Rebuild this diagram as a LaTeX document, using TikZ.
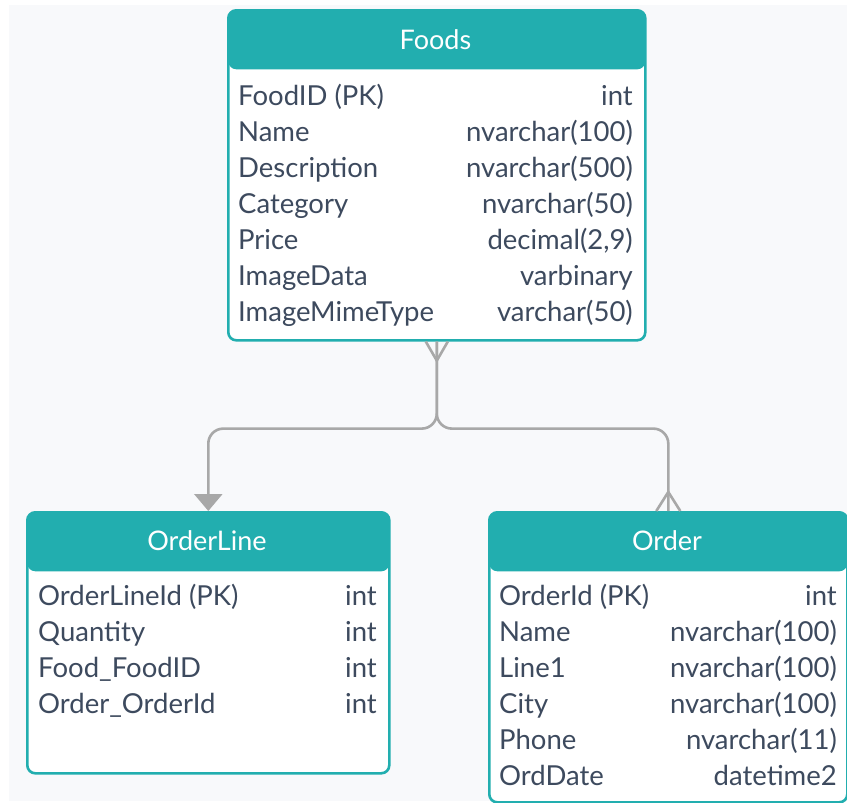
\documentclass[tikz,border=0pt]{standalone}
\usepackage{fontspec}
\setmainfont{Lato}
\usetikzlibrary{arrows.meta,calc}
\definecolor{tealc}{HTML}{22AEAF}
\definecolor{bgc}{HTML}{F8F9FB}
\definecolor{txt}{HTML}{3D4A5E}
\definecolor{conc}{HTML}{A8A8A8}
\tikzset{
  tbl/.style={draw=tealc, line width=2.6pt, fill=white, rounded corners=8pt, rectangle, anchor=north west, inner sep=0pt,
    path picture={\fill[tealc] (path picture bounding box.north west) rectangle ([yshift=-59pt]path picture bounding box.north east);}},
  ttl/.style={text=white, font=\fontsize{27}{30}\selectfont, anchor=base, inner sep=0pt},
  fld/.style={text=txt, font=\fontsize{27.5}{30}\selectfont, anchor=base west, inner sep=0pt},
  typ/.style={text=txt, font=\fontsize{27.5}{30}\selectfont, anchor=base east, inner sep=0pt},
  conn/.style={draw=conc, line width=2.6pt, rounded corners=15pt},
}
\begin{document}
\begin{tikzpicture}[x=1pt,y=-1pt]
\useasboundingbox (0,0) rectangle (847,803);
\fill[bgc] (9,5) rectangle (847,801);
% Foods
\node[tbl, minimum width=417pt, minimum height=330pt] (foods) at (227,9) {};
\node[ttl] (foodsT) at (435.5,49) {Foods};
\foreach \n/\f/\t [count=\i from 0] in {f1/FoodID (PK)/int, f2/Name/nvarchar(100), f3/Description/nvarchar(500), f4/Category/nvarchar(50), f5/Price/{decimal(2,9)}, f6/ImageData/varbinary, f7/ImageMimeType/varchar(50)}{
  \node[fld] (\n a) at (238,105+36*\i) {\f};
  \node[typ] (\n b) at (633,105+36*\i) {\t};
}
% OrderLine
\node[tbl, minimum width=362pt, minimum height=261pt] (orderline) at (26,511) {};
\node[ttl] (orderlineT) at (207,550) {OrderLine};
\foreach \n/\f/\t [count=\i from 0] in {l1/OrderLineId (PK)/int, l2/Quantity/int, l3/Food\_FoodID/int, l4/Order\_OrderId/int}{
  \node[fld] (\n a) at (38,605+36*\i) {\f};
  \node[typ] (\n b) at (377,605+36*\i) {\t};
}
% Order
\node[tbl, minimum width=358pt, minimum height=290pt] (order) at (488,511) {};
\node[ttl] (orderT) at (667,550) {Order};
\foreach \n/\f/\t [count=\i from 0] in {o1/OrderId (PK)/int, o2/Name/nvarchar(100), o3/Line1/nvarchar(100), o4/City/nvarchar(100), o5/Phone/nvarchar(11), o6/OrdDate/datetime2}{
  \node[fld] (\n a) at (499,605+36*\i) {\f};
  \node[typ] (\n b) at (837,605+36*\i) {\t};
}
% connectors
\draw[conn, -{Triangle[width=28pt,length=17pt]}] (foods.south) -- ++(0,87) -| (orderline.north);
\draw[conn] (foods.south) -- ++(0,87) -| (order.north);
% crow's feet
\draw[conc, line width=2.6pt] ($(foods.south)+(-11,0)$) -- ($(foods.south)+(0,19)$) -- ($(foods.south)+(11,0)$);
\draw[conc, line width=2.6pt] ($(order.north)+(-12,0)$) -- ($(order.north)+(0,-19)$) -- ($(order.north)+(12,0)$);
\end{tikzpicture}
\end{document}
